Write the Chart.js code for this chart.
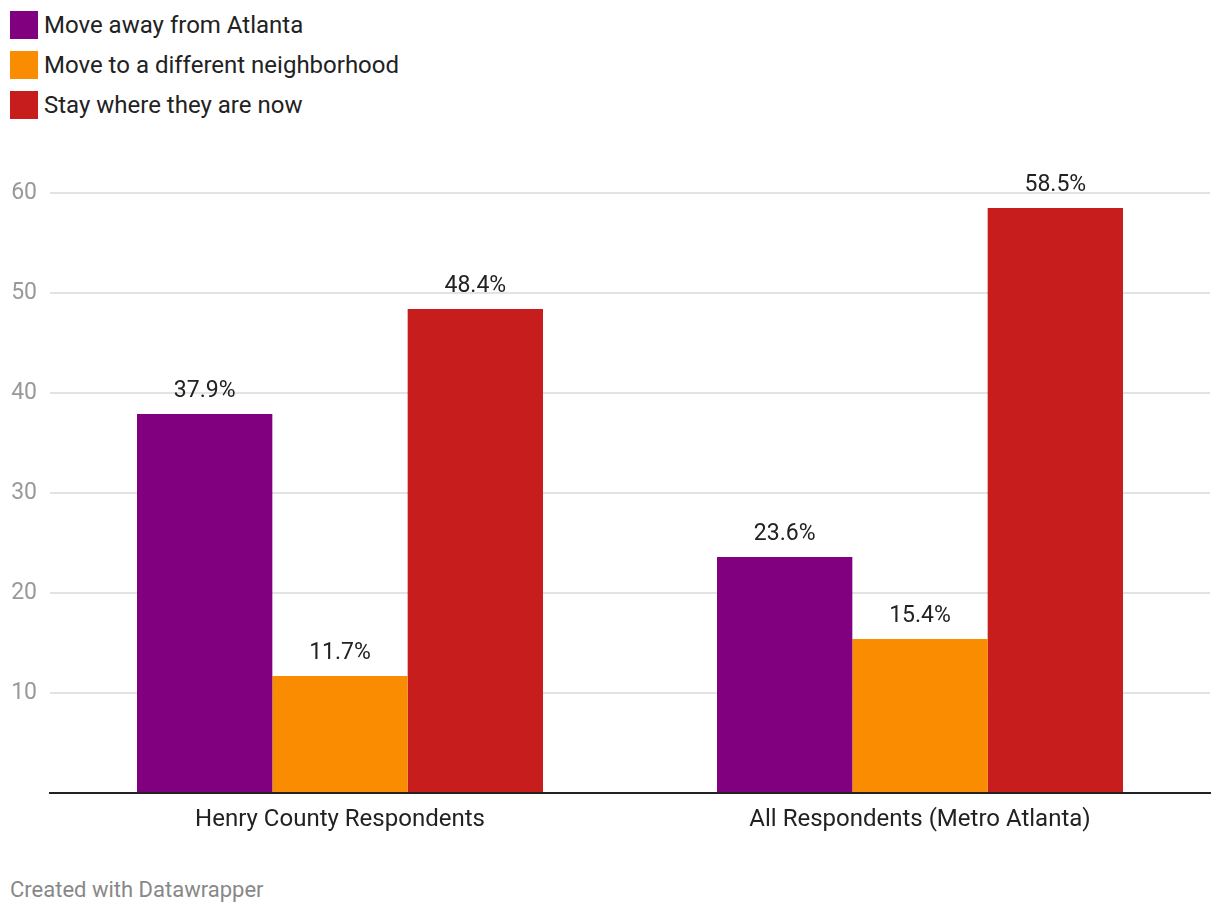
<!DOCTYPE html>
<html>
<head>
<meta charset="utf-8">
<script src="https://cdn.jsdelivr.net/npm/chart.js@4"></script>
<style>
  body { margin: 0; background: #fff; font-family: Roboto, sans-serif; }
  #legend { position: absolute; left: 10px; top: 5px; }
  .item { display: flex; align-items: center; height: 40px; font-size: 24px; color: #222; }
  .swatch { width: 28px; height: 28px; margin-right: 6px; }
  #wrap { position: absolute; left: 0; top: 150px; width: 1220px; height: 700px; }
  #footer { position: absolute; left: 10px; top: 877px; font-size: 22px; color: #888; line-height: 26px; }
</style>
</head>
<body>
<div id="legend"></div>
<div id="wrap"><canvas id="chart"></canvas></div>
<div id="footer">Created with Datawrapper</div>
<script>
// chart data
const categories = ['Henry County Respondents', 'All Respondents (Metro Atlanta)'];
const seriesNames = ['Move away from Atlanta', 'Move to a different neighborhood', 'Stay where they are now'];
const moveAway = [37.9, 23.6];
const moveNeighborhood = [11.7, 15.4];
const stayPut = [48.4, 58.5];
const yTicks = [10, 20, 30, 40, 50, 60];
const colors = ['#800080', '#f98c00', '#c71e1d'];

const seriesValues = [moveAway, moveNeighborhood, stayPut];

// legend as html, one row per series
const legend = document.getElementById('legend');
seriesNames.forEach((name, i) => {
    const row = document.createElement('div');
    row.className = 'item';
    row.innerHTML = '<div class="swatch" style="background:' + colors[i] + '"></div>' + name;
    legend.appendChild(row);
});

// value labels above each bar
const valueLabels = {
    id: 'valueLabels',
    afterDatasetsDraw(chart) {
        const ctx = chart.ctx;
        ctx.save();
        ctx.font = '23px Roboto';
        ctx.fillStyle = '#222';
        ctx.textAlign = 'center';
        ctx.textBaseline = 'middle';
        chart.data.datasets.forEach((ds, i) => {
            chart.getDatasetMeta(i).data.forEach((bar, j) => {
                ctx.fillText(ds.data[j].toFixed(1) + '%', bar.x, bar.y - 23);
            });
        });
        ctx.restore();
    }
};

new Chart(document.getElementById('chart'), {
    type: 'bar',
    data: {
        labels: categories,
        datasets: seriesNames.map((name, i) => ({
            label: name,
            data: seriesValues[i],
            backgroundColor: colors[i],
            categoryPercentage: 0.7,
            barPercentage: 1.0
        }))
    },
    options: {
        responsive: true,
        maintainAspectRatio: false,
        animation: false,
        layout: { padding: { top: 43, right: 10, left: 0, bottom: 0 } },
        plugins: { legend: { display: false }, tooltip: { enabled: false } },
        scales: {
            x: {
                grid: { display: false },
                border: { color: '#222', width: 2 },
                ticks: { color: '#222', font: { family: 'Roboto', size: 24 }, padding: 5 },
                afterFit(scale) { scale.height = 57; }
            },
            y: {
                min: 0,
                max: 60,
                afterBuildTicks(scale) {
                    scale.ticks = [0].concat(yTicks).map(v => ({ value: v }));
                },
                grid: {
                    color: c => c.tick.value === 0 ? 'rgba(0,0,0,0)' : '#e3e3e3',
                    lineWidth: 2,
                    drawTicks: false
                },
                border: { display: false },
                ticks: {
                    color: '#999',
                    font: { family: 'Roboto', size: 23 },
                    padding: 13,
                    callback: v => v === 0 ? '' : v
                },
                afterFit(scale) { scale.width = 50; }
            }
        }
    },
    plugins: [valueLabels]
});
</script>
</body>
</html>
